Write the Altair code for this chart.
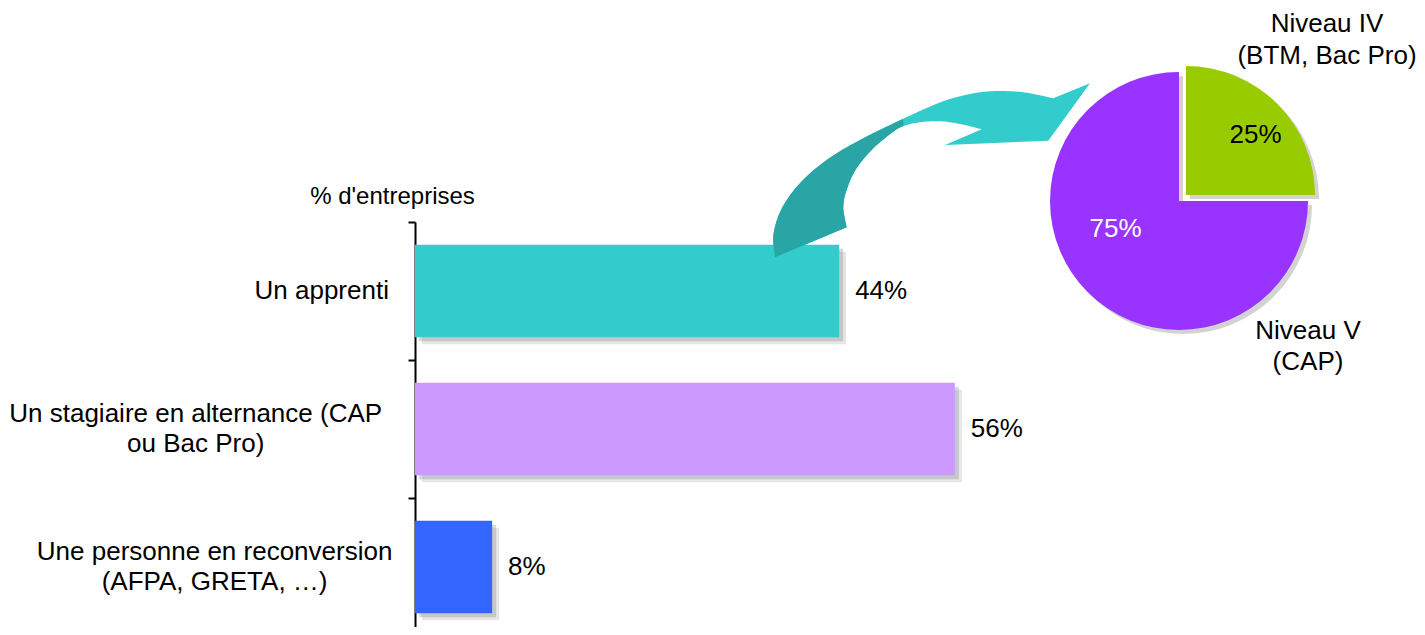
import math
import altair as alt
import pandas as pd

# ---------------- data ----------------
categories = [
    "Un apprenti",
    "Un stagiaire en alternance (CAP ou Bac Pro)",
    "Une personne en reconversion (AFPA, GRETA, …)",
]
label_line1 = ["Un apprenti", "Un stagiaire en alternance (CAP", "Une personne en reconversion"]
label_line2 = ["", "ou Bac Pro)", "(AFPA, GRETA, …)"]
values = [44, 56, 8]
bar_colors = ["#33CCCC", "#CC99FF", "#3366FF"]

pie_levels = ["Niveau IV", "Niveau V"]
pie_line1 = ["Niveau IV", "Niveau V"]
pie_line2 = ["(BTM, Bac Pro)", "(CAP)"]
pie_values = [25, 75]
pie_colors = ["#99CC00", "#9933FF"]

axis_title = "% d'entreprises"

# ---------------- layout / style ----------------
FONT = "Liberation Sans"
W, H = 964, 405
PX_PER_UNIT = W / 100.0
PIE_C = (764, -21)          # pie centre, relative to plot origin
GREEN_SHIFT = (7, -6)       # exploded slice offset
PIE_R = 129
LINE_H = 30

bars_df = pd.DataFrame({
    "cat": categories, "value": values,
    "line1": label_line1, "line2": label_line2,
})
pie_df = pd.DataFrame({
    "level": pie_levels, "share": pie_values,
    "line1": pie_line1, "line2": pie_line2, "order": [0, 1],
})

y_enc = alt.Y(
    "cat:N", sort=categories,
    scale=alt.Scale(domain=categories, range=[0, 414], paddingInner=0, paddingOuter=0),
    axis=alt.Axis(
        title=axis_title, labels=False, domainColor="black", domainWidth=2,
        tickColor="black", tickWidth=2, tickSize=7, tickBand="extent",
        titleAngle=0, titleX=-23, titleY=-26, titleAlign="center", titleBaseline="middle",
        titleFontSize=24, titleFontWeight="normal", titleColor="black", titleFont=FONT,
        grid=False,
    ),
)
x_scale = alt.Scale(domain=[0, 100], nice=False, zero=True)
x_enc = alt.X("value:Q", scale=x_scale, axis=None)
BAR_H = alt.RelativeBandSize(0.67)

base = alt.Chart(bars_df)

shadow1 = base.mark_bar(height=BAR_H, color="#808080", opacity=0.2,
                        xOffset=7, x2Offset=7, yOffset=7, y2Offset=7).encode(x=x_enc, y=y_enc)
shadow2 = base.mark_bar(height=BAR_H, color="#808080", opacity=0.3,
                        xOffset=4, x2Offset=4, yOffset=4, y2Offset=4).encode(x=x_enc, y=y_enc)
bars = base.mark_bar(height=BAR_H, opacity=1).encode(
    x=x_enc, y=y_enc,
    color=alt.Color("cat:N", scale=alt.Scale(domain=categories, range=bar_colors), legend=None),
)
value_labels = base.transform_calculate(lbl="datum.value + '%'").mark_text(
    align="left", baseline="middle", dx=16, fontSize=26, font=FONT, color="black"
).encode(x=x_enc, y=y_enc, text="lbl:N")

cat_base = base.transform_calculate(
    cx=f"-(24 + 6.3 * max(length(datum.line1), length(datum.line2))) / {PX_PER_UNIT}",
    txt="datum.line2 ? datum.line1 + '\\n' + datum.line2 : datum.line1",
)
cat_text_kw = dict(align="center", baseline="middle", fontSize=26, font=FONT, color="black",
                   lineBreak="\n", lineHeight=LINE_H)
cat_enc = dict(x=alt.X("cx:Q", scale=x_scale, axis=None), y=y_enc, text="txt:N")
cat_single = cat_base.transform_filter("datum.line2 == ''").mark_text(**cat_text_kw).encode(**cat_enc)
cat_double = cat_base.transform_filter("datum.line2 != ''").mark_text(
    dy=-LINE_H / 2, **cat_text_kw).encode(**cat_enc)

# ---------------- curved arrow (decorative shape, smoothed outline) ----------------
ARROW_C = (931, 170)
ARROW_R = 160.0
TIP = (1090.0, 83.3)
OUTER = [(1053.3, 98.3), (1028.0, 93.0), (1004.0, 91.0), (978.0, 92.5), (950.0, 99.0),
         (922.0, 110.0), (893.3, 123.5), (860.0, 140.0), (828.0, 159.0), (801.0, 182.0),
         (782.0, 208.0), (773.5, 234.0), (775.0, 257.3)]
INNER = [(846.7, 227.3), (843.3, 206.7), (847.3, 188.0), (856.7, 168.0), (873.3, 148.3),
         (893.3, 131.7), (903.3, 126.0), (920.0, 122.2), (940.0, 121.3), (960.0, 124.0),
         (981.7, 129.3)]
BARB = [(945.0, 145.0), (1048.3, 140.7)]


def nrm(p):
    return ((p[0] - ARROW_C[0]) / ARROW_R, (p[1] - ARROW_C[1]) / ARROW_R)


def fmt(p):
    q = nrm(p)
    return f"{q[0]:.4f},{q[1]:.4f}"


def smooth(pts):
    """Catmull-Rom run as cubic Bezier commands (starting point already current)."""
    out = []
    n = len(pts)
    for i in range(n - 1):
        p0 = pts[i - 1] if i > 0 else pts[i]
        p1, p2 = pts[i], pts[i + 1]
        p3 = pts[i + 2] if i + 2 < n else pts[i + 1]
        c1 = (p1[0] + (p2[0] - p0[0]) / 6, p1[1] + (p2[1] - p0[1]) / 6)
        c2 = (p2[0] - (p3[0] - p1[0]) / 6, p2[1] - (p3[1] - p1[1]) / 6)
        out.append(f"C{fmt(c1)} {fmt(c2)} {fmt(p2)}")
    return out


light_path = " ".join(
    [f"M{fmt(TIP)}", f"L{fmt(OUTER[0])}"] + smooth(OUTER) + [f"L{fmt(INNER[0])}"] + smooth(INNER)
    + [f"L{fmt(BARB[0])}", f"L{fmt(BARB[1])}", "Z"]
)
dark_outer = [(903.3, 119.0)] + OUTER[6:]
dark_inner = INNER[:7]
dark_path = " ".join(
    [f"M{fmt(dark_outer[0])}"] + smooth(dark_outer) + [f"L{fmt(dark_inner[0])}"] + smooth(dark_inner) + ["Z"]
)

arrow_df = pd.DataFrame({"k": [0]})
ax, ay = ARROW_C[0] - 415, ARROW_C[1] - 222
arrow_size = (2 * ARROW_R) ** 2
arrow_light = alt.Chart(arrow_df).mark_point(
    shape=light_path, filled=True, size=arrow_size, color="#33CCCC", opacity=1, strokeWidth=0
).encode(x=alt.value(ax), y=alt.value(ay))
arrow_dark = alt.Chart(arrow_df).mark_point(
    shape=dark_path, filled=True, size=arrow_size, color="#29A5A5", opacity=1, strokeWidth=0
).encode(x=alt.value(ax), y=alt.value(ay))

# ---------------- pie ----------------
theta_scale = alt.Scale(domain=[0, 100], range=[0, 2 * math.pi])
pie_base = alt.Chart(pie_df).transform_window(
    cum="sum(share)", sort=[alt.SortField("order")], frame=[None, 0]
).transform_calculate(start="datum.cum - datum.share", mid="datum.cum - datum.share / 2")

th = alt.Theta("start:Q", scale=theta_scale)
th2 = alt.Theta2("cum:Q")

gx, gy = PIE_C[0] + GREEN_SHIFT[0], PIE_C[1] + GREEN_SHIFT[1]

purple_f = alt.datum.level == pie_levels[1]
green_f = alt.datum.level == pie_levels[0]

pie_shadow_p = pie_base.transform_filter(purple_f).mark_arc(radius=PIE_R, color="#808080", opacity=0.35).encode(
    theta=th, theta2=th2, x=alt.value(PIE_C[0] + 4), y=alt.value(PIE_C[1] + 4))
pie_shadow_g = pie_base.transform_filter(green_f).mark_arc(radius=PIE_R, color="#808080", opacity=0.35).encode(
    theta=th, theta2=th2, x=alt.value(gx + 4), y=alt.value(gy + 4))
pie_purple = pie_base.transform_filter(purple_f).mark_arc(radius=PIE_R, color=pie_colors[1]).encode(
    theta=th, theta2=th2, x=alt.value(PIE_C[0]), y=alt.value(PIE_C[1]))
pie_green = pie_base.transform_filter(green_f).mark_arc(radius=PIE_R, color=pie_colors[0]).encode(
    theta=th, theta2=th2, x=alt.value(gx), y=alt.value(gy))

pct_green = pie_base.transform_filter(green_f).transform_calculate(lbl="datum.share + '%'").mark_text(
    radius=90, dx=6, dy=4, fontSize=26, font=FONT, color="black", align="center", baseline="middle"
).encode(theta=alt.Theta("mid:Q", scale=theta_scale), x=alt.value(gx), y=alt.value(gy), text="lbl:N")
pct_purple = pie_base.transform_filter(purple_f).transform_calculate(lbl="datum.share + '%'").mark_text(
    radius=70, dx=-14, dy=-21, fontSize=26, font=FONT, color="white", align="center", baseline="middle"
).encode(theta=alt.Theta("mid:Q", scale=theta_scale), x=alt.value(PIE_C[0]), y=alt.value(PIE_C[1]), text="lbl:N")

txt_expr = "datum.line1 + '\\n' + datum.line2"
name_green = pie_base.transform_filter(green_f).transform_calculate(txt=txt_expr).mark_text(
    fontSize=26, font=FONT, color="black", align="center", baseline="middle", lineBreak="\n", lineHeight=32
).encode(x=alt.value(912), y=alt.value(-198), text="txt:N")
name_purple = pie_base.transform_filter(purple_f).transform_calculate(txt=txt_expr).mark_text(
    fontSize=26, font=FONT, color="black", align="center", baseline="middle", lineBreak="\n", lineHeight=31
).encode(x=alt.value(893), y=alt.value(109), text="txt:N")

chart = alt.layer(
    shadow1, shadow2, bars, value_labels, cat_single, cat_double,
    arrow_light, arrow_dark,
    pie_shadow_p, pie_shadow_g, pie_purple, pie_green,
    pct_green, pct_purple, name_green, name_purple,
).properties(
    width=W, height=H,
    autosize=alt.AutoSizeParams(type="none"),
    padding={"left": 407, "top": 214, "right": 38, "bottom": 0},
).configure(font=FONT).configure_view(strokeWidth=0, stroke="transparent")

chart.save("out.html", embed_options={"renderer": "svg", "actions": False})
